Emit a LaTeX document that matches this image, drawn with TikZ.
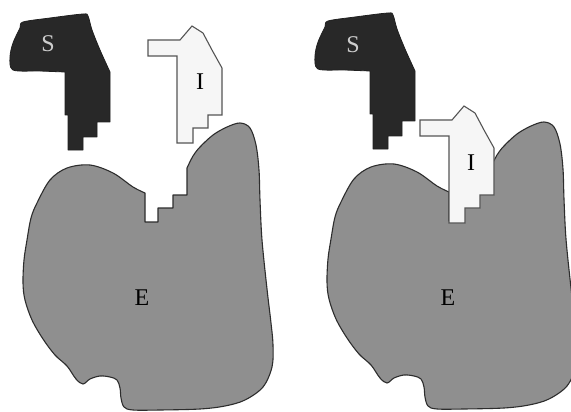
\documentclass[tikz,border=0pt]{standalone}
\usepackage{fontspec}
\setmainfont{Liberation Serif}
\definecolor{egray}{RGB}{143,143,143}
\definecolor{sdark}{RGB}{40,40,40}
\definecolor{ifill}{RGB}{246,246,246}
\definecolor{iline}{RGB}{85,85,85}
\definecolor{eline}{RGB}{45,45,45}
\definecolor{slet}{RGB}{205,205,205}
\tikzset{
  ebody/.style={fill=egray, draw=eline, line width=1.1pt, line join=round},
  sbody/.style={fill=sdark, draw=sdark!80!black, line width=0.8pt, line join=round},
  ibody/.style={fill=ifill, draw=iline, line width=1.1pt, line join=miter},
  lab/.style={font=\fontsize{24}{24}\selectfont, inner sep=0pt},
}
\newcommand{\enzshape}{%
  (187,168) -- plot[smooth, tension=0.55] coordinates {(187,168) (193,156) (200,147) (213,135) (227,127) (240,123) (250,128) (256,145) (259,170) (260,200) (262,240) (267,289) (271,323) (273,345) (272,367) (263,387) (245,400) (225,406) (200,409) (160,410) (133,410) (124,407) (121,398) (120,388) (117,380) (110,377) (100,376) (90,379) (83,384) (76,379) (67,366) (55,355) (43,339) (32,320) (25,300) (23,283) (24,260) (27,240) (31,218) (37,203) (50,180) (67,168) (90,165) (113,173) (133,187) (145,193)}
  -- (145,222) -- (158,222) -- (158,208) -- (173,208) -- (173,195) -- (187,195) -- cycle}
\newcommand{\subshape}{%
  (65,72) -- plot[smooth, tension=0.5] coordinates {(65,72) (40,71) (13,70) (10,57) (13,43) (20,28) (23,22) (50,18) (83,14) (88,16) (92,30) (100,50) (110,72)}
  -- (110,122) -- (97,122) -- (97,137) -- (83,137) -- (83,150) -- (68,150) -- (68,115) -- (65,115) -- cycle}
\newcommand{\inhshape}{%
  (148,40) -- (180,40) -- (192,26) -- (203,33) -- (212,50) -- (222,68) -- (222,115) -- (208,115) -- (208,128) -- (193,128) -- (193,143) -- (177,143) -- (177,56) -- (148,56) -- cycle}
\begin{document}
\begin{tikzpicture}[x=1pt,y=-1pt]
\useasboundingbox (0,0) rectangle (571,412);
\fill[white] (0,0) rectangle (571,412);
\begin{scope}
\clip (0,0) rectangle (571,412);
% left panel
\draw[ebody] \enzshape;
\draw[sbody] \subshape;
\draw[ibody] \inhshape;
% right panel
\begin{scope}[shift={(304,-1)}]
\draw[ebody] \enzshape;
\end{scope}
\begin{scope}[shift={(305,-1)}]
\draw[sbody] \subshape;
\end{scope}
\begin{scope}[shift={(272,80)}]
\draw[ibody] \inhshape;
\end{scope}
\end{scope}
\node[lab, text=slet] (s1) at (48,44) {S};
\node[lab] (i1) at (200,82) {I};
\node[lab] (e1) at (142,298) {E};
\node[lab, text=slet] (s2) at (353,45) {S};
\node[lab] (i2) at (471,163) {I};
\node[lab] (e2) at (448,298) {E};
\end{tikzpicture}
\end{document}
